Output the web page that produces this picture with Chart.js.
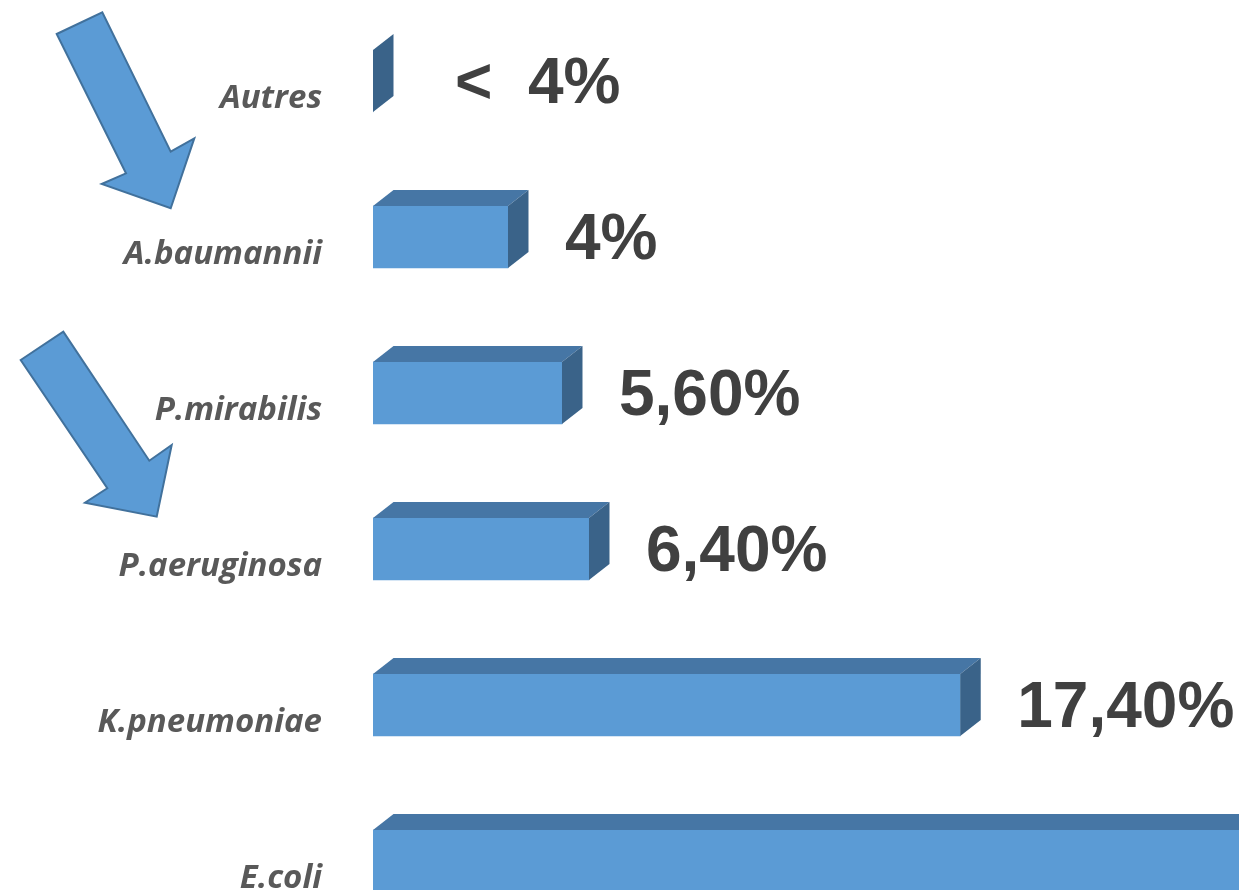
<!DOCTYPE html>
<html lang="fr">
<head>
<meta charset="utf-8">
<title>Répartition des espèces</title>
<script src="https://cdn.jsdelivr.net/npm/chart.js@4.4.1/dist/chart.umd.min.js"></script>
<style>
    html, body { margin: 0; padding: 0; background: #ffffff; overflow: hidden; }
    #wrap { width: 1239px; height: 946px; }
</style>
</head>
<body>
<div id="wrap"><canvas id="species-chart" width="1239" height="946"></canvas></div>
<script>
const categories = ['Autres', 'A.baumannii', 'P.mirabilis', 'P.aeruginosa', 'K.pneumoniae', 'E.coli'];
const percentages = [0, 4, 5.6, 6.4, 17.4, 58];
const valueLabels = ['<  4%', '4%', '5,60%', '6,40%', '17,40%', null];

const FRONT = '#5b9bd5';
const TOP = '#4676a5';
const SIDE = '#3a6389';
const DEPTH_X = 20.5;
const DEPTH_Y = -16;

// top + side faces so the flat bars read as boxes, then the value text
const boxFaces = {
    id: 'boxFaces',
    afterDatasetsDraw(chart) {
        const ctx = chart.ctx;
        const meta = chart.getDatasetMeta(0);
        ctx.save();
        meta.data.forEach((bar, i) => {
            const { x, y, base, height } = bar.getProps(['x', 'y', 'base', 'height'], true);
            const top = y - height / 2;
            const bottom = y + height / 2;

            ctx.fillStyle = TOP;
            ctx.beginPath();
            ctx.moveTo(base, top);
            ctx.lineTo(base + DEPTH_X, top + DEPTH_Y);
            ctx.lineTo(x + DEPTH_X, top + DEPTH_Y);
            ctx.lineTo(x, top);
            ctx.closePath();
            ctx.fill();

            ctx.fillStyle = SIDE;
            ctx.beginPath();
            ctx.moveTo(x, top);
            ctx.lineTo(x + DEPTH_X, top + DEPTH_Y);
            ctx.lineTo(x + DEPTH_X, bottom + DEPTH_Y);
            ctx.lineTo(x, bottom);
            ctx.closePath();
            ctx.fill();

            const txt = valueLabels[i];
            if (txt) {
                ctx.fillStyle = '#404040';
                ctx.font = 'bold 64px "Liberation Sans", Arial, sans-serif';
                ctx.textAlign = 'left';
                ctx.textBaseline = 'middle';
                // the empty bar only shows its side face, so give its text more room
                const gap = x - base < 1 ? 82 : 57;
                ctx.fillText(txt, x + gap, y + 4);
            }
        });
        ctx.restore();
    }
};

// the two block arrows on the left
const arrowShapes = [
    [[56.7, 34], [102.3, 12.3], [170.7, 151.7], [194.3, 138.3], [170.7, 208.3], [101.7, 184], [126, 173.3]],
    [[20.7, 360], [63.3, 331.7], [149.3, 460.7], [171.7, 445], [156.7, 516.7], [85, 502.7], [107.3, 488.3]]
];

const arrows = {
    id: 'arrows',
    afterDraw(chart) {
        const ctx = chart.ctx;
        ctx.save();
        ctx.fillStyle = '#5b9bd5';
        ctx.strokeStyle = '#41719c';
        ctx.lineWidth = 2;
        ctx.lineJoin = 'miter';
        arrowShapes.forEach(pts => {
            ctx.beginPath();
            pts.forEach(([px, py], k) => k ? ctx.lineTo(px, py) : ctx.moveTo(px, py));
            ctx.closePath();
            ctx.fill();
            ctx.stroke();
        });
        ctx.restore();
    }
};

new Chart(document.getElementById('species-chart'), {
    type: 'bar',
    data: {
        labels: categories,
        datasets: [{
            data: percentages,
            backgroundColor: FRONT,
            borderWidth: 0,
            barThickness: 62
        }]
    },
    options: {
        indexAxis: 'y',
        responsive: false,
        animation: false,
        layout: { padding: { top: 3, bottom: 7, left: 0, right: 0 } },
        plugins: {
            legend: { display: false },
            tooltip: { enabled: false }
        },
        scales: {
            x: {
                display: false,
                min: 0,
                max: 25.66
            },
            y: {
                grid: { display: false, drawTicks: false },
                border: { display: false },
                afterFit(scale) {
                    scale.width = 373;
                    // tick padding would otherwise be added above and below the plot
                    scale.paddingTop = 0;
                    scale.paddingBottom = 0;
                },
                ticks: {
                    color: '#595959',
                    padding: 51,
                    labelOffset: 18,
                    font: { family: "'Open Sans', sans-serif", size: 33, style: 'italic', weight: 'bold' }
                }
            }
        }
    },
    plugins: [boxFaces, arrows]
});
</script>
</body>
</html>
